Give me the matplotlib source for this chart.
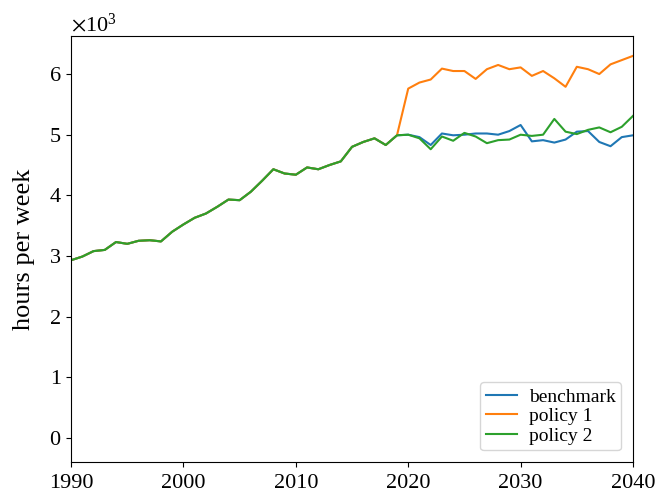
import matplotlib
matplotlib.use("Agg")
import matplotlib.pyplot as plt
import numpy as np

plt.rcParams['font.family'] = ['Liberation Serif', 'DejaVu Serif']
plt.rcParams['mathtext.fontset'] = 'stix'

# years and series (thousands of hours per week)
years = np.arange(1990, 2041)

history = [2.93, 2.99, 3.08, 3.10, 3.23, 3.20, 3.25, 3.26, 3.24, 3.40,
           3.52, 3.63, 3.70, 3.81, 3.93, 3.92, 4.06, 4.24, 4.43, 4.36,
           4.34, 4.46, 4.43, 4.50, 4.56, 4.80, 4.88, 4.94, 4.83, 4.99]

benchmark_future = [5.00, 4.96, 4.83, 5.02, 4.99, 5.00, 5.02, 5.02, 5.00, 5.06,
                    5.16, 4.89, 4.91, 4.87, 4.92, 5.05, 5.06, 4.88, 4.81, 4.96, 4.99]
policy1_future = [5.76, 5.86, 5.91, 6.09, 6.05, 6.05, 5.92, 6.08, 6.15, 6.08,
                  6.11, 5.97, 6.05, 5.93, 5.79, 6.12, 6.08, 6.00, 6.16, 6.23, 6.30]
policy2_future = [5.00, 4.94, 4.76, 4.97, 4.90, 5.03, 4.97, 4.86, 4.91, 4.92,
                  5.00, 4.98, 5.00, 5.26, 5.05, 5.01, 5.08, 5.12, 5.04, 5.13, 5.31]

benchmark = np.array(history + benchmark_future) * 1000
policy1 = np.array(history + policy1_future) * 1000
policy2 = np.array(history + policy2_future) * 1000

Linewidth = 1.5

fig = plt.figure(figsize=(6.58, 4.98), dpi=100)
ax = fig.add_axes([0.108, 0.072, 0.854, 0.856])

ax.plot(years, benchmark, label='benchmark', color='#1f77b4', linewidth=Linewidth)
ax.plot(years, policy1, label='policy 1', color='#ff7f0e', linewidth=Linewidth)
ax.plot(years, policy2, label='policy 2', color='#2ca02c', linewidth=Linewidth)

ax.set_xlim(1990, 2040)
ax.set_ylim(-400, 6630)
ax.set_xticks(np.arange(1990, 2041, 10))
ax.set_yticks(np.arange(0, 7000, 1000))
ax.ticklabel_format(axis='y', style='sci', scilimits=(3, 3), useMathText=True)
ax.yaxis.get_offset_text().set_fontsize(16)
ax.tick_params(labelsize=16)
ax.tick_params(axis='x', pad=5)
ax.set_ylabel('hours per week', fontsize=19, labelpad=10)
ax.legend(loc='lower right', fontsize=14, handlelength=1.6, labelspacing=0.1,
          borderpad=0.3, handletextpad=0.6, borderaxespad=0.6)

fig.savefig('out.png', dpi=100)
